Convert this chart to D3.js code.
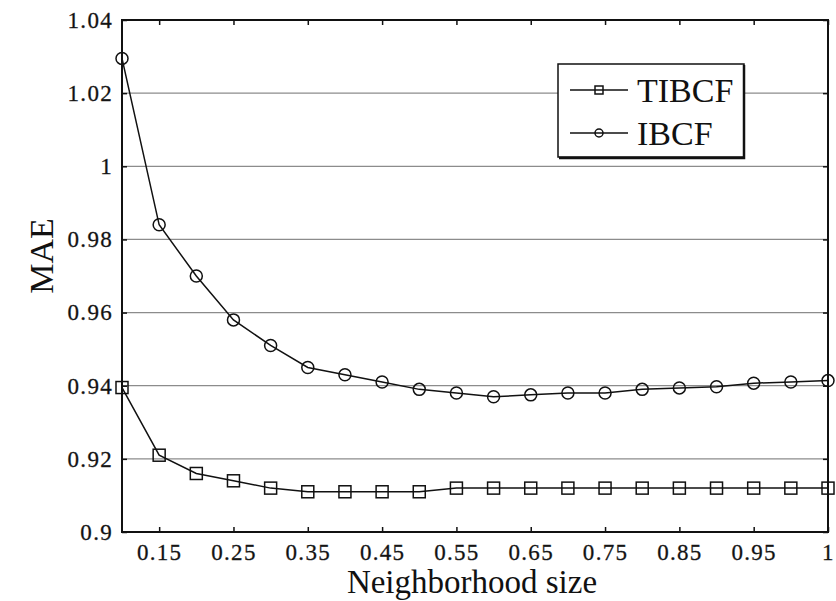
<!DOCTYPE html>
<html>
<head>
<meta charset="utf-8">
<script src="https://cdn.jsdelivr.net/npm/d3@7/dist/d3.min.js"></script>
<style>
  body { margin: 0; background: #fff; }
  svg text { font-family: "Liberation Serif", "DejaVu Serif", serif; fill: #111; }
</style>
</head>
<body>
<svg width="836" height="601"></svg>
<script>
// neighborhood size points are evenly spaced, labels on every other point
const xTickIndex = [1, 3, 5, 7, 9, 11, 13, 15, 17, 19];
const xTickLabels = ["0.15", "0.25", "0.35", "0.45", "0.55", "0.65", "0.75", "0.85", "0.95", "1"];
const yTicks = [0.9, 0.92, 0.94, 0.96, 0.98, 1, 1.02, 1.04];
const gridValues = [0.92, 0.94, 0.96, 0.98, 1, 1.02];

const tibcf = [0.9395, 0.921, 0.916, 0.914, 0.912, 0.911, 0.911, 0.911, 0.911, 0.912,
               0.912, 0.912, 0.912, 0.912, 0.912, 0.912, 0.912, 0.912, 0.912, 0.912];
const ibcf = [1.0295, 0.984, 0.970, 0.958, 0.951, 0.945, 0.943, 0.941, 0.939, 0.938,
              0.937, 0.9375, 0.938, 0.938, 0.939, 0.9394, 0.9397, 0.9407, 0.941, 0.9414];

const svg = d3.select('svg');
const plotL = 122, plotR = 828, plotT = 20, plotB = 532;

const x = d3.scaleLinear().domain([0, tibcf.length - 1]).range([plotL, plotR]);
const y = d3.scaleLinear().domain([0.9, 1.04]).range([plotB, plotT]);

// grid
svg.append('g').selectAll('line')
  .data(gridValues)
  .enter().append('line')
  .attr('x1', plotL).attr('x2', plotR)
  .attr('y1', d => y(d)).attr('y2', d => y(d))
  .attr('stroke', '#8c8c8c')
  .attr('stroke-width', 1.3);

// axes
const fmt = d => String(+d.toFixed(2));

svg.append('g')
  .attr('transform', `translate(0,${plotB})`)
  .call(d3.axisBottom(x).tickValues(xTickIndex)
    .tickFormat((d, i) => xTickLabels[i])
    .tickSizeInner(-5).tickSizeOuter(0).tickPadding(12));

svg.append('g')
  .attr('transform', `translate(0,${plotT})`)
  .call(d3.axisTop(x).tickValues(xTickIndex).tickFormat('')
    .tickSizeInner(-5).tickSizeOuter(0));

svg.append('g')
  .attr('transform', `translate(${plotL},0)`)
  .call(d3.axisLeft(y).tickValues(yTicks).tickFormat(fmt)
    .tickSizeInner(-5).tickSizeOuter(0).tickPadding(9));

svg.append('g')
  .attr('transform', `translate(${plotR},0)`)
  .call(d3.axisRight(y).tickValues(yTicks).tickFormat('')
    .tickSizeInner(-5).tickSizeOuter(0));

svg.selectAll('.domain').remove();
svg.selectAll('.tick line').attr('stroke', '#111').attr('stroke-width', 1.5);
svg.selectAll('.tick text')
  .style('font-size', '23px')
  .style('letter-spacing', '1.3px')
  .attr('fill', '#222')
  .attr('stroke', '#222')
  .attr('stroke-width', 0.3);

// frame
svg.append('rect')
  .attr('x', plotL).attr('y', plotT)
  .attr('width', plotR - plotL).attr('height', plotB - plotT)
  .attr('fill', 'none')
  .attr('stroke', '#111')
  .attr('stroke-width', 2);

// series
const line = d3.line().x((d, i) => x(i)).y(d => y(d));

const series = [
  { name: 'TIBCF', values: tibcf, shape: 'square' },
  { name: 'IBCF', values: ibcf, shape: 'circle' }
];

const drawMarker = (g, shape, cx, cy, size) => {
  if (shape === 'square') {
    g.append('rect')
      .attr('x', cx - size / 2).attr('y', cy - size / 2)
      .attr('width', size).attr('height', size)
      .attr('fill', 'none').attr('stroke', '#111').attr('stroke-width', 1.5);
  } else {
    g.append('circle')
      .attr('cx', cx).attr('cy', cy).attr('r', size / 2)
      .attr('fill', 'none').attr('stroke', '#111').attr('stroke-width', 1.5);
  }
};

series.forEach(s => {
  const g = svg.append('g');
  g.append('path')
    .datum(s.values)
    .attr('d', line)
    .attr('fill', 'none')
    .attr('stroke', '#111')
    .attr('stroke-width', 1.5);
  s.values.forEach((v, i) => drawMarker(g, s.shape, x(i), y(v), 12));
});

// legend
const legendG = svg.append('g').attr('transform', 'translate(558,64)');
legendG.append('rect')
  .attr('x', 0).attr('y', 0).attr('width', 186).attr('height', 93)
  .attr('fill', '#fff').attr('stroke', '#111').attr('stroke-width', 1.5);
legendG.append('path')
  .attr('d', 'M186,1 V94 H1')
  .attr('fill', 'none').attr('stroke', '#111').attr('stroke-width', 2.5);

series.forEach((s, i) => {
  const ly = 26 + i * 43;
  const row = legendG.append('g');
  row.append('line')
    .attr('x1', 12).attr('x2', 70).attr('y1', ly).attr('y2', ly)
    .attr('stroke', '#111').attr('stroke-width', 1.5);
  drawMarker(row, s.shape, 41, ly, 8);
  row.append('text')
    .attr('x', 79).attr('y', ly + 12)
    .style('font-size', '34px')
    .text(s.name);
});

// axis titles
svg.append('text')
  .attr('x', 472).attr('y', 593)
  .attr('text-anchor', 'middle')
  .style('font-size', '33px')
  .text('Neighborhood size');

svg.append('text')
  .attr('transform', 'translate(53,256) rotate(-90)')
  .attr('text-anchor', 'middle')
  .style('font-size', '34px')
  .text('MAE');
</script>
</body>
</html>
